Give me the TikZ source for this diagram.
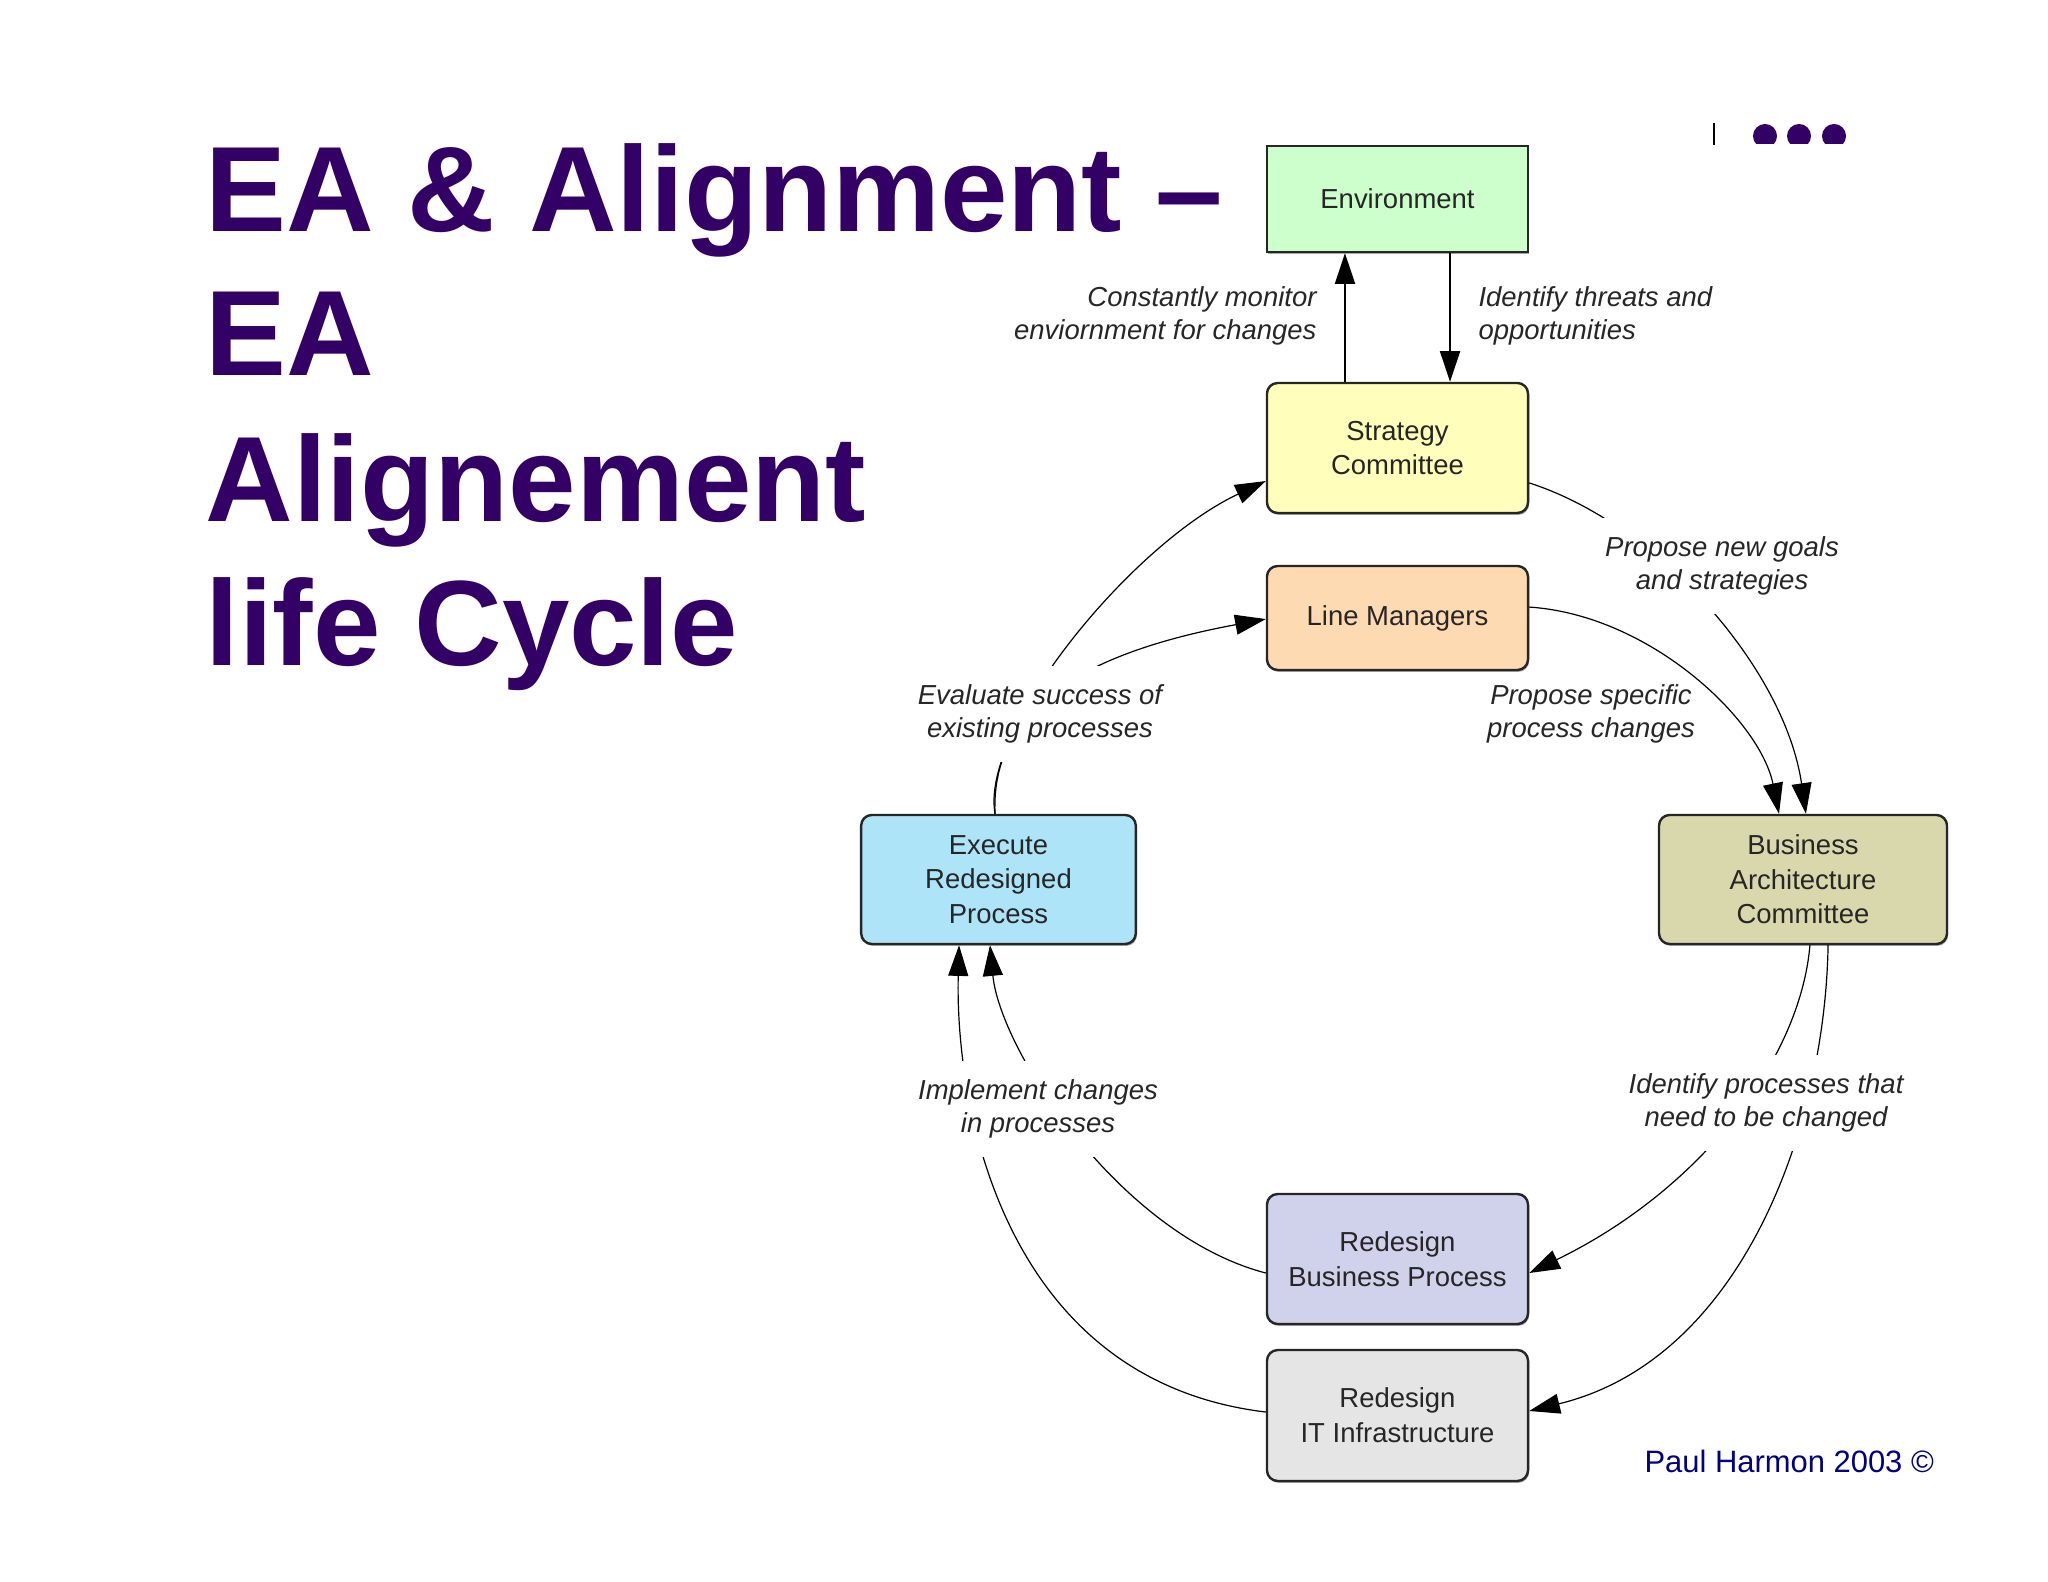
\documentclass[tikz,border=0pt]{standalone}
\usepackage{fontspec}
\setmainfont{Liberation Sans}
\usetikzlibrary{arrows.meta,shadows}
\definecolor{titlec}{HTML}{330066}
\definecolor{envc}{HTML}{CCFFCC}
\definecolor{stratc}{HTML}{FFFFBB}
\definecolor{lmc}{HTML}{FDDAB2}
\definecolor{bacc}{HTML}{D9D8AD}
\definecolor{exec}{HTML}{AEE4F8}
\definecolor{rbpc}{HTML}{D0D1EA}
\definecolor{ritc}{HTML}{E5E5E5}
\definecolor{navyc}{HTML}{000080}
\begin{document}
\begin{tikzpicture}[x=0.375pt,y=-0.375pt,
  box/.style={draw=black!85, line width=0.9pt, rounded corners=4pt, align=center,
    font=\fontsize{10.3}{13}\selectfont, text=black!85, inner sep=0pt,
    minimum width=97.9pt, minimum height=48.75pt,
    drop shadow={shadow xshift=0.4pt, shadow yshift=-0.7pt, fill=black, opacity=0.35}},
  lbl/.style={font=\fontsize{10.3}{12.5}\selectfont\itshape, text=black!85, align=center, inner sep=0pt},
  gap/.style={fill=white, inner xsep=2pt, inner ysep=7pt},
  arr/.style={-{Triangle[length=11.5pt,width=7.5pt]}, line width=0.45pt, black},
  titlestyle/.style={font=\fontsize{45.5}{54}\selectfont\bfseries, text=titlec, inner sep=0pt, anchor=base west}]
\path[use as bounding box, fill=white] (0,0) rectangle (2048,1582);

% title
\node[titlestyle] (t1) at (205,232) {EA \& Alignment –};
\node[titlestyle] (t2) at (205,376) {EA};
\node[titlestyle] (t3) at (205,522) {Alignement};
\node[titlestyle] (t4) at (205,666) {life Cycle};

% top-right marks
\draw[line width=1.1pt, black] (1714,123) -- (1714,145);
\begin{scope}
  \clip (1740,100) rectangle (1860,144);
  \fill[titlec] (1765,136) circle[radius=12];
  \fill[titlec] (1799,136) circle[radius=12];
  \fill[titlec] (1834,136) circle[radius=12];
\end{scope}

% boxes
\node[box, sharp corners, fill=envc, minimum height=39.75pt] (env) at (1397.5,199) {Environment};
\node[box, fill=stratc] (strat) at (1397.5,448) {Strategy\\Committee};
\node[box, fill=lmc, minimum height=39pt] (lm) at (1397.5,618) {Line Managers};
\node[box, fill=bacc, minimum width=108pt, minimum height=48.4pt] (bac) at (1803,879.5) {Business\\Architecture\\Committee};
\node[box, fill=exec, minimum width=103pt, minimum height=48.4pt] (exe) at (998.5,879.5) {Execute\\Redesigned\\Process};
\node[box, fill=rbpc] (rbp) at (1397.5,1259) {Redesign\\Business Process};
\node[box, fill=ritc, minimum height=49.1pt] (rit) at (1397.5,1415.5) {Redesign\\IT Infrastructure};

% environment arrows
\draw[arr, line width=0.75pt] ([xshift=-19.7pt]strat.north) -- ([xshift=-19.7pt]env.south);
\draw[arr, line width=0.75pt] ([xshift=19.7pt]env.south) -- ([xshift=19.7pt]strat.north);

% cycle arrows
\draw[arr] ([yshift=-13.1pt]strat.east) .. controls (1660,525) and (1785,670) .. ([xshift=1.1pt]bac.north);
\draw[arr] ([yshift=4.1pt]lm.east) .. controls (1650,615) and (1760,720) .. ([xshift=-9pt]bac.north);
\draw[arr] ([xshift=-1.3pt]exe.north) .. controls (980,730) and (1130,545) .. ([yshift=-12.4pt]strat.west);
\draw[arr] ([xshift=-1.3pt]exe.north) .. controls (990,700) and (1100,650) .. ([yshift=-0.4pt]lm.west);
\draw[arr] ([yshift=-5.25pt]rbp.west) .. controls (1120,1235) and (1000,1050) .. ([xshift=-3.2pt]exe.south);
\draw[arr] ([yshift=1.3pt]rit.west) .. controls (1000,1380) and (955,1100) .. ([xshift=-14.8pt]exe.south);
\draw[arr] ([xshift=2.6pt]bac.south) .. controls (1800,1060) and (1700,1190) .. ([yshift=-5.25pt]rbp.east);
\draw[arr] ([xshift=9.4pt]bac.south) .. controls (1825,1130) and (1740,1360) .. ([yshift=1.7pt]rit.east);

% labels
\node[lbl, align=right, anchor=east] (lmon) at (1317,316) {Constantly monitor\\enviornment for changes};
\node[lbl, align=left, anchor=west] (lthr) at (1478,316) {Identify threats and\\opportunities};
\node[lbl, gap] (lgoal) at (1722,566) {Propose new goals\\and strategies};
\node[lbl, inner sep=1pt] (lspec) at (1591,714) {Propose specific\\process changes};
\node[lbl, gap] (leval) at (1040,714) {Evaluate success of\\existing processes};
\node[lbl, gap] (limpl) at (1038,1109) {Implement changes\\in processes};
\node[lbl, gap] (lident) at (1766,1103) {Identify processes that\\need to be changed};

\node[anchor=base west, font=\fontsize{11.6}{14}\selectfont, text=navyc, inner sep=0pt] (ph) at (1644,1472) {Paul Harmon 2003 ©};
\end{tikzpicture}
\end{document}
